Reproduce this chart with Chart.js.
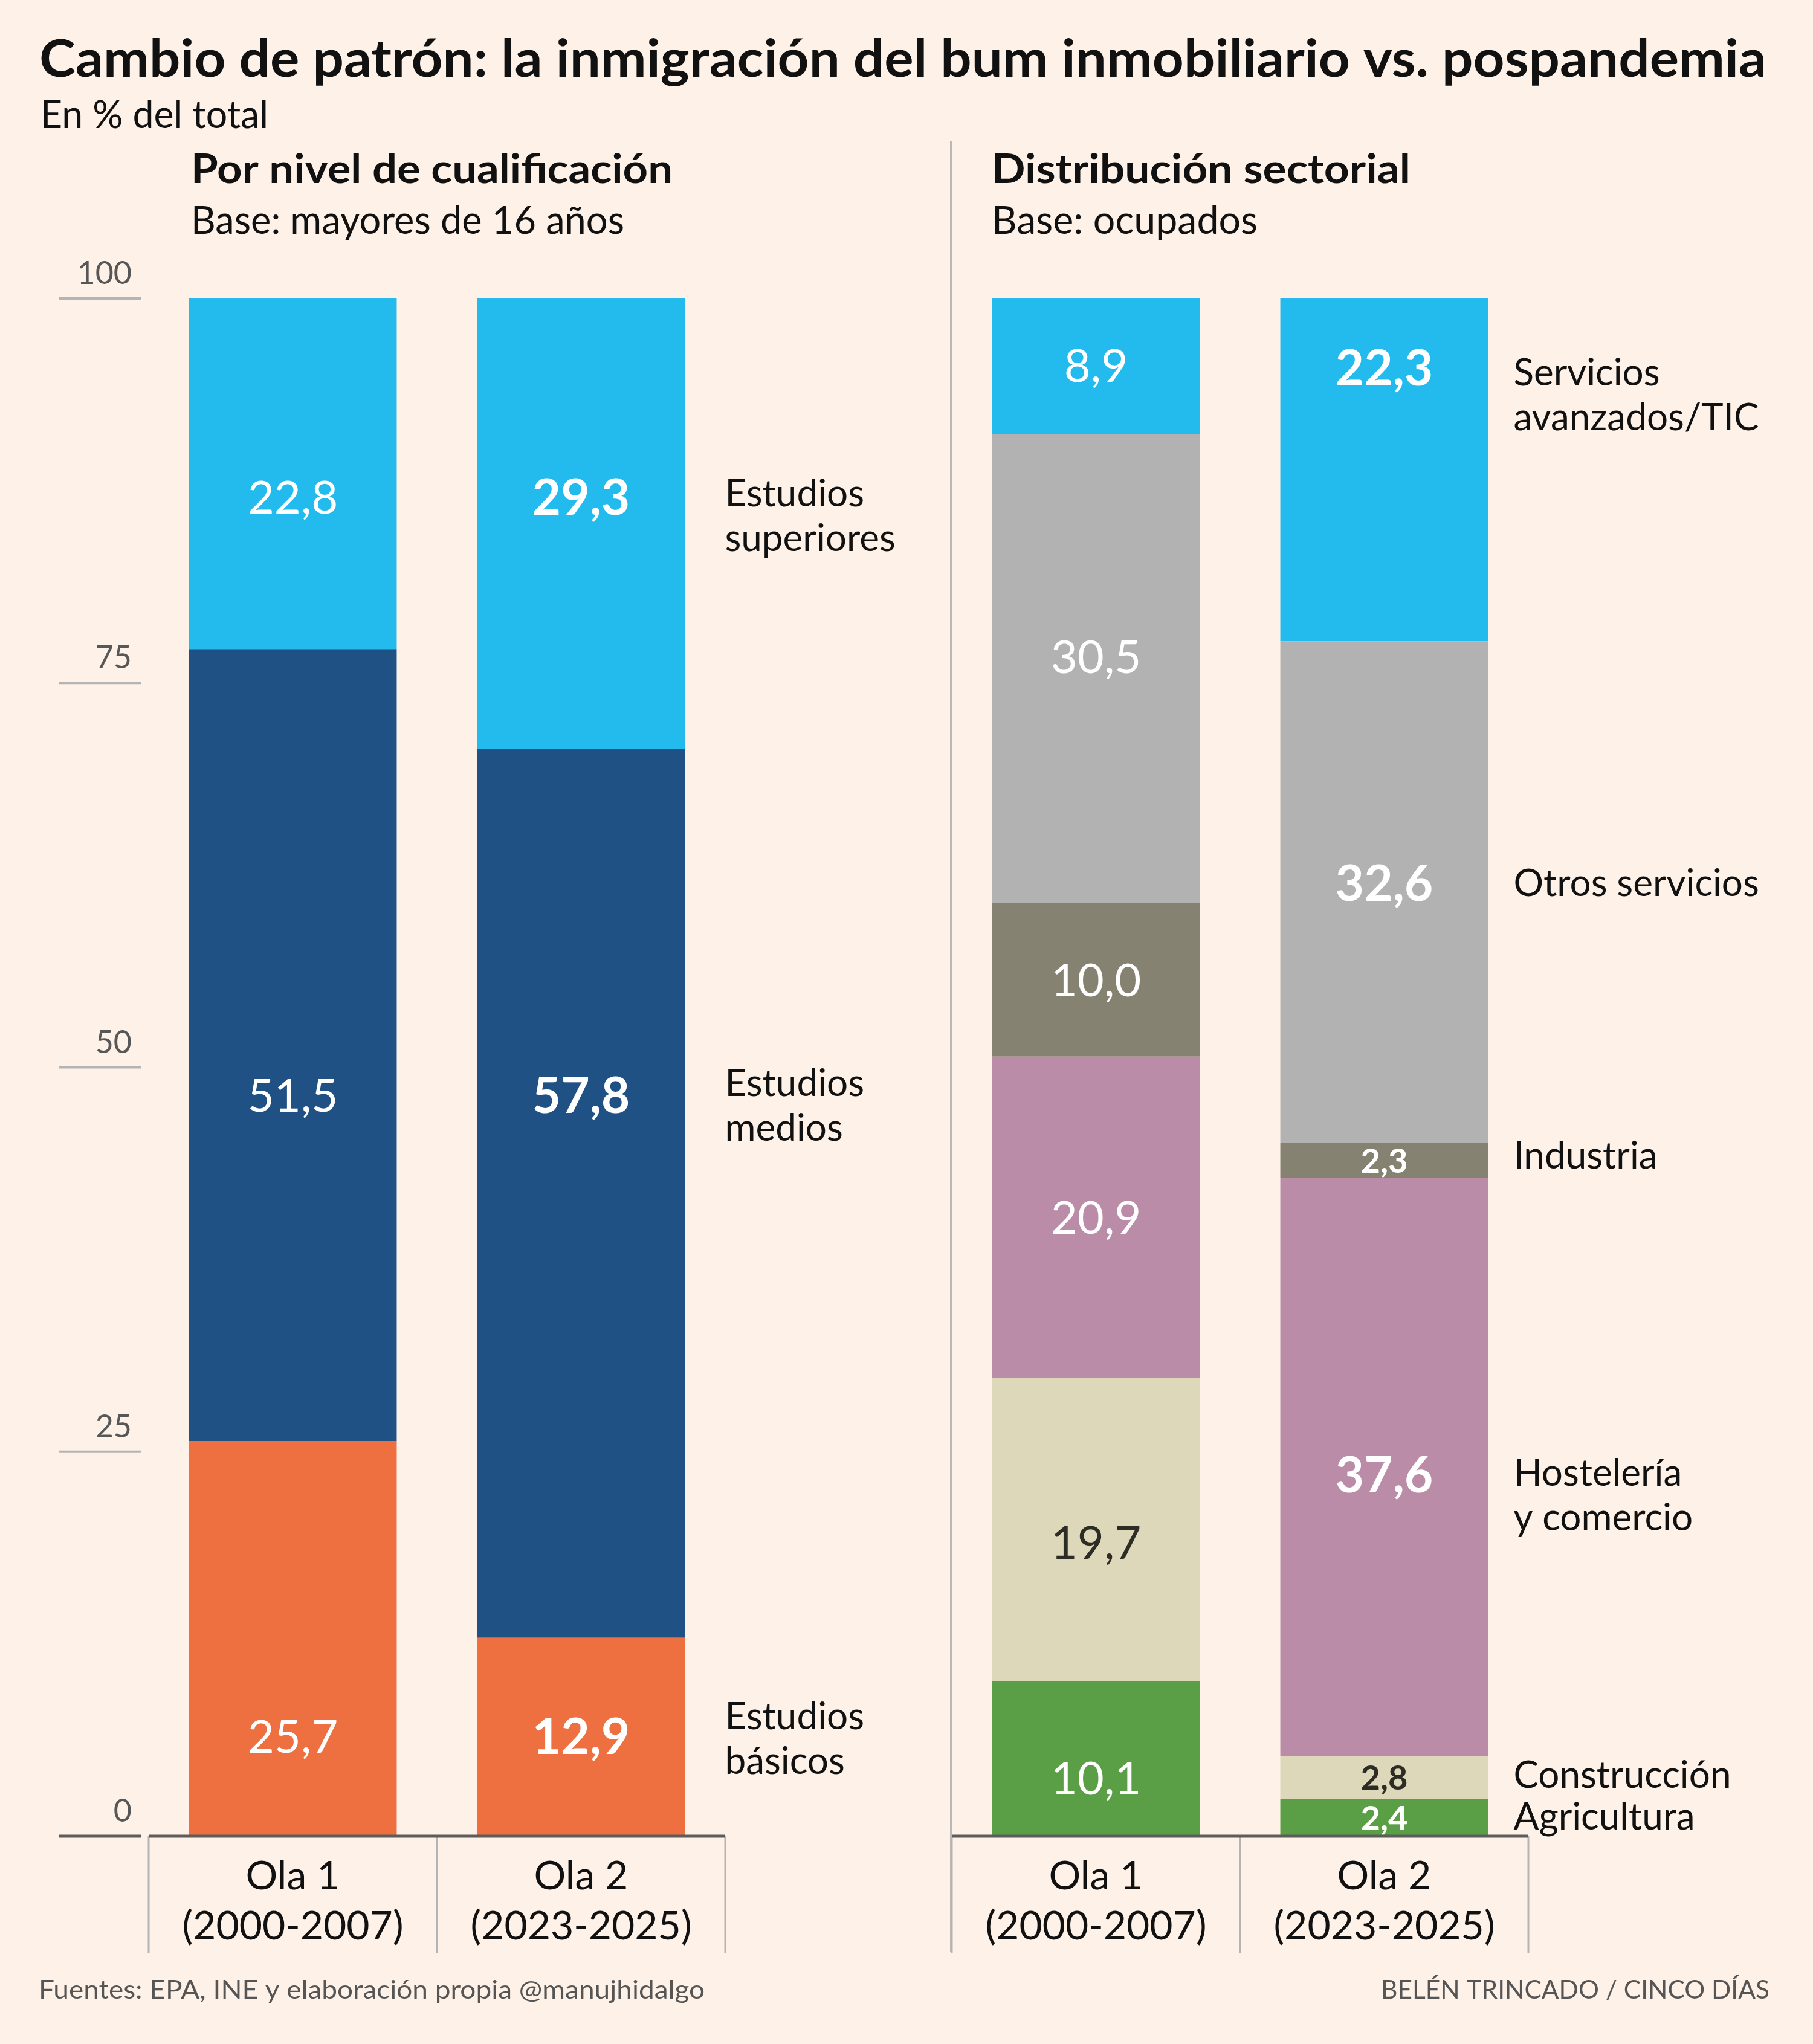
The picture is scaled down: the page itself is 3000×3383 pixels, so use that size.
<!DOCTYPE html>
<html lang="es">
<head>
<meta charset="utf-8">
<title>Cambio de patrón: la inmigración del bum inmobiliario vs. pospandemia</title>
<script src="https://cdn.jsdelivr.net/npm/chart.js@4.4.1/dist/chart.umd.min.js"></script>
<style>
  html, body { margin: 0; padding: 0; }
  body { width: 3000px; height: 3383px; background: #fef1e7; position: relative; overflow: hidden; }
  canvas { position: absolute; left: 0; top: 0; }
</style>
</head>
<body>
<canvas id="textos" width="3000" height="3383"></canvas>
<canvas id="graficoCual" width="3000" height="3383"></canvas>
<canvas id="graficoSector" width="3000" height="3383"></canvas>
<script>
// datos
const olas = [['Ola 1', '(2000-2007)'], ['Ola 2', '(2023-2025)']];
const ticksY = [0, 25, 50, 75, 100];

// por nivel de cualificación (de abajo arriba)
const nivelesCual = [['Estudios', 'básicos'], ['Estudios', 'medios'], ['Estudios', 'superiores']];
const basicos = [25.7, 12.9];
const medios = [51.5, 57.8];
const superiores = [22.8, 29.3];

// distribución sectorial (de abajo arriba)
const sectores = [['Agricultura'], ['Construcción'], ['Hostelería', 'y comercio'], ['Industria'], ['Otros servicios'], ['Servicios', 'avanzados/TIC']];
const agricultura = [10.1, 2.4];
const construccion = [19.7, 2.8];
const hosteleria = [20.9, 37.6];
const industria = [10.0, 2.3];
const otrosServicios = [30.5, 32.6];
const serviciosTIC = [8.9, 22.3];

const coloresCual = ['#ee7040', '#1f5185', '#23bbee'];
const coloresSector = ['#5a9e46', '#ddd8b9', '#bb8ca8', '#858272', '#b2b2b2', '#23bbee'];

// maquetación: filas de las etiquetas (en unidades del eje) cuando no van centradas en el tramo
const filasCual = [[6.5, 6.5], [48.2, 48.2], [87.1, 87.1]];
const filasSector = [[3.8, null], [19.1, null], [null, 23.5], [null, null], [76.7, 62.0], [null, 95.5]];
// maquetación: fila de la primera línea de cada nombre de serie
const filasNombreCual = [7.8, 49.0, 87.35];
const filasNombreSector = [1.3, 4.0, 23.65, 44.3, 62.0, 95.2];

const fmt = v => v.toFixed(1).replace('.', ',');

function texto(ctx, s, x, y, fuente, color, alin, ancho) {
  ctx.save();
  ctx.font = fuente;
  ctx.fillStyle = color;
  ctx.textBaseline = 'alphabetic';
  ctx.textAlign = alin || 'left';
  const w = ctx.measureText(s).width;
  const k = ancho ? ancho / w : 1;
  ctx.translate(x, y);
  ctx.scale(k, 1);
  ctx.fillText(s, 0, 0);
  ctx.restore();
}

const pluginDecor = {
  id: 'decor',
  afterDatasetsDraw(chart, args, opts) {
    const ctx = chart.ctx;
    const ca = chart.chartArea;
    const x = chart.scales.x;
    const y = chart.scales.y;
    const y0 = y.getPixelForValue(0);
    const n = chart.data.labels.length;
    const anchoCat = (ca.right - ca.left) / n;

    ctx.save();
    // eje Y a la izquierda
    if (opts.ejeY) {
      ticksY.forEach(t => {
        const py = y.getPixelForValue(t);
        ctx.fillStyle = t === 0 ? '#5c5c5c' : '#b4b4b4';
        const g = t === 0 ? 5 : 4;
        ctx.fillRect(ca.left - 148, py - g / 2, 136, g);
        texto(ctx, String(t), ca.left - 28, py - 24, '400 52px Lato', '#575757', 'right');
      });
    }

    // separadores de categoría
    ctx.fillStyle = '#b4b4b4';
    for (let i = 0; i <= n; i++) {
      const px = ca.left + i * anchoCat;
      ctx.fillRect(px - 1.5, y0, 3, 193);
    }
    // línea base
    ctx.fillStyle = '#5c5c5c';
    ctx.fillRect(ca.left, y0 - 2.5, ca.right - ca.left, 5);

    // nombres de categoría
    chart.data.labels.forEach((lab, i) => {
      const px = x.getPixelForValue(i);
      texto(ctx, lab[0], px, y0 + 88, '400 66px Lato', '#111111', 'center');
      texto(ctx, lab[1], px, y0 + 171, '400 66px Lato', '#111111', 'center');
    });

    // valores y nombres de serie
    chart.data.datasets.forEach((ds, d) => {
      const meta = chart.getDatasetMeta(d);
      let derechaOla2 = 0;
      meta.data.forEach((el, i) => {
        const fila = opts.filas[d][i];
        const cy = fila === null ? (el.y + el.base) / 2 : y.getPixelForValue(fila);
        const alto = Math.abs(el.base - el.y);
        const negrita = i === 1;
        let tam = negrita ? 82 : 76;
        if (alto < 100) tam = 56;
        const fuente = (negrita ? '700 ' : '400 ') + tam + 'px Lato';
        const base = cy + tam * 0.72 / 2;
        texto(ctx, fmt(ds.data[i]), el.x, base, fuente, opts.colorTexto[d], 'center');
        if (i === 1) derechaOla2 = el.x + el.width / 2;
      });
      const cyNombre = y.getPixelForValue(opts.filasNombre[d]);
      opts.nombres[d].forEach((linea, k) => {
        texto(ctx, linea, derechaOla2 + opts.nombreDx, cyNombre + 22 + k * 74, '400 62px Lato', '#111111', 'left');
      });
    });
    ctx.restore();
  }
};

function opcionesBase(pad, extra) {
  return {
    responsive: false,
    animation: false,
    devicePixelRatio: 1,
    layout: { padding: pad },
    scales: {
      x: { stacked: true, display: false },
      y: { stacked: true, display: false, min: 0, max: 100 }
    },
    plugins: {
      legend: { display: false },
      tooltip: { enabled: false },
      decor: extra
    }
  };
}

function dibujarTextos() {
  const ctx = document.getElementById('textos').getContext('2d');
  texto(ctx, 'Cambio de patrón: la inmigración del bum inmobiliario vs. pospandemia', 65, 127, '700 86px Lato', '#111111', 'left', 2858);
  texto(ctx, 'En % del total', 67, 212, '400 63px Lato', '#111111', 'left', 377);
  texto(ctx, 'Por nivel de cualificación', 316, 303, '700 67px Lato', '#111111', 'left', 797);
  texto(ctx, 'Base: mayores de 16 años', 316, 387, '400 63px Lato', '#111111', 'left', 717);
  texto(ctx, 'Distribución sectorial', 1641, 303, '700 67px Lato', '#111111', 'left', 693);
  texto(ctx, 'Base: ocupados', 1641, 387, '400 63px Lato', '#111111', 'left', 440);
  texto(ctx, 'Fuentes: EPA, INE y elaboración propia @manujhidalgo', 64, 3308, '400 42px Lato', '#555555', 'left', 1102);
  texto(ctx, 'BELÉN TRINCADO / CINCO DÍAS', 2928, 3308, '400 42px Lato', '#555555', 'right', 643);
  // separador entre los dos gráficos
  ctx.fillStyle = '#b8b8b8';
  ctx.fillRect(1572, 233, 4, 2997);
}

function dibujar() {
  dibujarTextos();

  const seriesCual = [basicos, medios, superiores];
  new Chart(document.getElementById('graficoCual'), {
    type: 'bar',
    data: {
      labels: olas,
      datasets: seriesCual.map((s, i) => ({
        label: nivelesCual[i].join(' '),
        data: s,
        backgroundColor: coloresCual[i],
        borderWidth: 0,
        categoryPercentage: 0.721,
        barPercentage: 1
      }))
    },
    options: opcionesBase({ left: 246, right: 1800, top: 494, bottom: 344 }, {
      ejeY: true,
      filas: filasCual,
      filasNombre: filasNombreCual,
      nombres: nivelesCual,
      nombreDx: 66,
      colorTexto: ['#ffffff', '#ffffff', '#ffffff']
    }),
    plugins: [pluginDecor]
  });

  const seriesSector = [agricultura, construccion, hosteleria, industria, otrosServicios, serviciosTIC];
  new Chart(document.getElementById('graficoSector'), {
    type: 'bar',
    data: {
      labels: olas,
      datasets: seriesSector.map((s, i) => ({
        label: sectores[i].join(' '),
        data: s,
        backgroundColor: coloresSector[i],
        borderWidth: 0,
        categoryPercentage: 0.721,
        barPercentage: 1
      }))
    },
    options: opcionesBase({ left: 1575, right: 471, top: 494, bottom: 344 }, {
      ejeY: false,
      filas: filasSector,
      filasNombre: filasNombreSector,
      nombres: sectores,
      nombreDx: 42,
      colorTexto: ['#ffffff', '#2d2d26', '#ffffff', '#ffffff', '#ffffff', '#ffffff']
    }),
    plugins: [pluginDecor]
  });
}

Promise.all([
  document.fonts.load('400 60px Lato'),
  document.fonts.load('700 60px Lato')
]).catch(() => {}).then(dibujar);
</script>
</body>
</html>
